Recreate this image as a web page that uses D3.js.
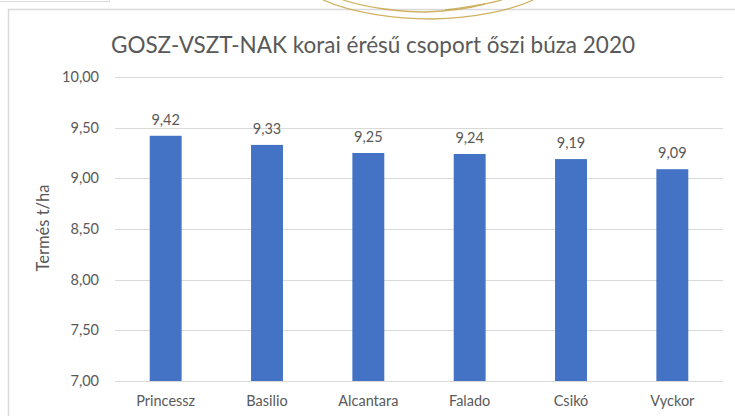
<!DOCTYPE html>
<html><head><meta charset="utf-8">
<script src="https://cdn.jsdelivr.net/npm/d3@7"></script>
<style>body{margin:0;background:#fff}svg{display:block}</style>
</head><body>
<svg id="c" width="735" height="416"></svg>
<script>
const categories = ["Princessz","Basilio","Alcantara","Falado","Csikó","Vyckor"];
const yields = [9.42, 9.33, 9.25, 9.24, 9.19, 9.09];
const yTicks = [7.0, 7.5, 8.0, 8.5, 9.0, 9.5, 10.0];
const titleText = "GOSZ-VSZT-NAK korai érésű csoport őszi búza 2020";
const yAxisTitle = "Termés t/ha";

const svg = d3.select("#c");
const W = 735, H = 416;
const m = {left:115, right:12, top:77, bottom:35};
const font = "Lato, 'Open Sans', sans-serif";
const textCol = "#595959";

const hu = d3.formatLocale({decimal:",", thousands:" ", grouping:[3], currency:["","Ft"]});
const fmt = hu.format(".2f");

// frame / decorations
svg.append("path").attr("d","M0,1.5H109.5V0").attr("fill","none").attr("stroke","#d9d9d9").attr("stroke-width",1);
svg.append("path").attr("d",`M8.5,${H}V9.5H${W}`).attr("fill","none").attr("stroke","#d9d9d9").attr("stroke-width",1.5);
const gold = svg.append("g").attr("fill","none").attr("stroke","#c8a444").attr("stroke-width",1.3).attr("opacity",0.85);
gold.append("path").attr("d","M323,0 C352,13 395,19 432,19 C475,18 512,10 533,0");
gold.append("path").attr("d","M343,0 C368,8 400,12 425,12 C450,11 470,8 485,4");
gold.append("path").attr("d","M445,10 C468,7 488,4 502,0");

const x = d3.scaleBand().domain(categories).range([m.left, W - m.right]).paddingInner(0.685).paddingOuter(0.3425);
const y = d3.scaleLinear().domain([7, 10]).range([381, 77]);

// gridlines
svg.append("g").selectAll("line").data(yTicks).join("line")
  .attr("x1", m.left).attr("x2", W - m.right)
  .attr("y1", d => Math.round(y(d)) + 0.5).attr("y2", d => Math.round(y(d)) + 0.5)
  .attr("stroke", "#d9d9d9").attr("stroke-width", 1);

// y axis labels
const yAxis = d3.axisLeft(y).tickValues(yTicks).tickFormat(fmt).tickSize(0).tickPadding(16);
const ya = svg.append("g").attr("transform", `translate(${m.left},0)`).call(yAxis);
ya.select(".domain").remove();
ya.selectAll("text").attr("font-family", font).attr("font-size", 14.5).attr("fill", textCol);

// x axis labels
const xAxis = d3.axisBottom(x).tickSize(0).tickPadding(15);
const xa = svg.append("g").attr("transform", `translate(0,${y(7)})`).call(xAxis);
xa.select(".domain").remove();
xa.selectAll("text").attr("font-family", font).attr("font-size", 14.5).attr("fill", textCol);

// bars
svg.append("g").selectAll("rect").data(categories).join("rect")
  .attr("x", d => x(d)).attr("width", x.bandwidth())
  .attr("y", (d,i) => y(yields[i])).attr("height", (d,i) => y(7) - y(yields[i]))
  .attr("fill", "#4472c4");

// value labels
svg.append("g").selectAll("text").data(categories).join("text")
  .attr("x", d => x(d) + x.bandwidth()/2)
  .attr("y", (d,i) => y(yields[i]) - 11)
  .attr("text-anchor", "middle")
  .attr("font-family", font).attr("font-size", 14.5).attr("fill", textCol)
  .text((d,i) => fmt(yields[i]));

// title
svg.append("text").attr("x", 373).attr("y", 53).attr("text-anchor", "middle")
  .attr("font-family", font).attr("font-size", 22.5).attr("fill", textCol)
  .text(titleText);

// y axis title
svg.append("text").attr("transform", "translate(49,228) rotate(-90)")
  .attr("text-anchor", "middle").attr("font-family", font).attr("font-size", 16.5).attr("fill", textCol)
  .text(yAxisTitle);
</script>
</body></html>
